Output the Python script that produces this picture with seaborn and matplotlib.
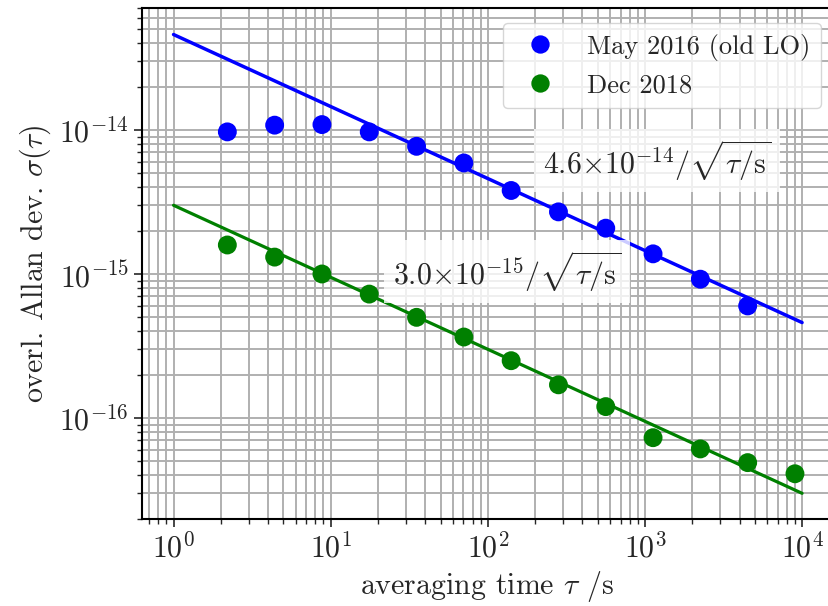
import numpy as np
import pandas as pd
import matplotlib
matplotlib.use("Agg")
import matplotlib.pyplot as plt
import matplotlib.ticker as mticker
import seaborn as sns

# ---- data ----
tau = [2.2, 4.4, 8.8, 17.6, 35.2, 70.4, 140.8, 281.6, 563.2, 1126.4, 2252.8, 4505.6, 9011.2]
may2016 = [9.7e-15, 1.08e-14, 1.09e-14, 9.7e-15, 7.7e-15, 5.9e-15, 3.8e-15, 2.7e-15,
           2.08e-15, 1.38e-15, 9.2e-16, 6.0e-16]
dec2018 = [1.59e-15, 1.31e-15, 1.0e-15, 7.25e-16, 5.0e-16, 3.65e-16, 2.5e-16, 1.7e-16,
           1.2e-16, 7.3e-17, 6.1e-17, 4.9e-17, 4.1e-17]
fit_tau = [1.0, 1.0e4]
fit_may = [4.6e-14, 4.6e-16]
fit_dec = [3.0e-15, 3.0e-17]
labels = ["May 2016 (old LO)", "Dec 2018"]
colors = ["blue", "green"]
x_major = [1e0, 1e1, 1e2, 1e3, 1e4]
y_major = [1e-16, 1e-15, 1e-14]

sns.set_style("ticks")
plt.rcParams.update({
    "font.family": "serif",
    "font.serif": ["cmr10"],
    "mathtext.fontset": "cm",
    "axes.formatter.use_mathtext": True,
    "font.size": 22,
})

df = pd.DataFrame({
    "tau": tau[:len(may2016)] + tau,
    "sigma": may2016 + dec2018,
    "series": [labels[0]] * len(may2016) + [labels[1]] * len(dec2018),
})
fits = pd.DataFrame({
    "tau": fit_tau + fit_tau,
    "sigma": fit_may + fit_dec,
    "series": [labels[0]] * 2 + [labels[1]] * 2,
})

fig = plt.figure(figsize=(8.29, 6.06), dpi=100)
ax = fig.add_axes([0.1713, 0.1436, 0.8323, 0.8432])

ax.set_xscale("log")
ax.set_yscale("log")

sns.lineplot(data=fits[fits.series == labels[0]], x="tau", y="sigma", color=colors[0],
             linewidth=2.5, ax=ax, legend=False, zorder=3)
sns.lineplot(data=fits[fits.series == labels[1]], x="tau", y="sigma", color=colors[1],
             linewidth=2.3, ax=ax, legend=False, zorder=3)
sns.scatterplot(data=df, x="tau", y="sigma", hue="series", palette=dict(zip(labels, colors)),
                s=185, edgecolor="none", linewidth=0, ax=ax, zorder=4)

ax.set_xlim(0.63, 1.55e4)
ax.set_ylim(1.99e-17, 7.03e-14)
ax.xaxis.set_major_locator(mticker.FixedLocator(x_major))
ax.yaxis.set_major_locator(mticker.FixedLocator(y_major))
ax.xaxis.set_major_formatter(mticker.LogFormatterSciNotation())
ax.yaxis.set_major_formatter(mticker.LogFormatterSciNotation())
ax.xaxis.set_minor_locator(mticker.LogLocator(base=10, subs=np.arange(2, 10), numticks=20))
ax.yaxis.set_minor_locator(mticker.LogLocator(base=10, subs=np.arange(2, 10), numticks=20))
ax.xaxis.set_minor_formatter(mticker.NullFormatter())
ax.yaxis.set_minor_formatter(mticker.NullFormatter())

ax.grid(True, which="both", color="#b0b0b0", linewidth=1.4)
ax.set_axisbelow(True)
for s in ax.spines.values():
    s.set_linewidth(1.5)
    s.set_color("black")
ax.tick_params(which="major", length=6, width=1.2, direction="out", labelsize=21.5)
ax.tick_params(which="minor", length=3.5, width=1.0, direction="out")

ax.set_xlabel(r"averaging time $\tau$ /s", fontsize=21.5)
ax.set_ylabel(r"overl. Allan dev. $\sigma(\tau)$", fontsize=21.5)

bbox = dict(boxstyle="square,pad=0.3", facecolor="white", edgecolor="none", alpha=0.8)
ax.text(0.746, 0.702, r"$4.6{\times}10^{-14}/\sqrt{\tau/\mathrm{s}}$", transform=ax.transAxes,
        ha="center", va="center", fontsize=21.5, bbox=bbox, zorder=5)
ax.text(0.529, 0.485, r"$3.0{\times}10^{-15}/\sqrt{\tau/\mathrm{s}}$", transform=ax.transAxes,
        ha="center", va="center", fontsize=21.5, bbox=bbox, zorder=5)

handles, _ = ax.get_legend_handles_labels()
for h in handles:
    if hasattr(h, "set_markersize"):
        h.set_markersize(13.2)
leg = ax.legend(handles=handles, labels=labels, loc="upper right", fontsize=19, frameon=True,
                framealpha=0.8, borderaxespad=0, bbox_to_anchor=(0.984, 0.9706))

fig.savefig("out.png", dpi=100)
